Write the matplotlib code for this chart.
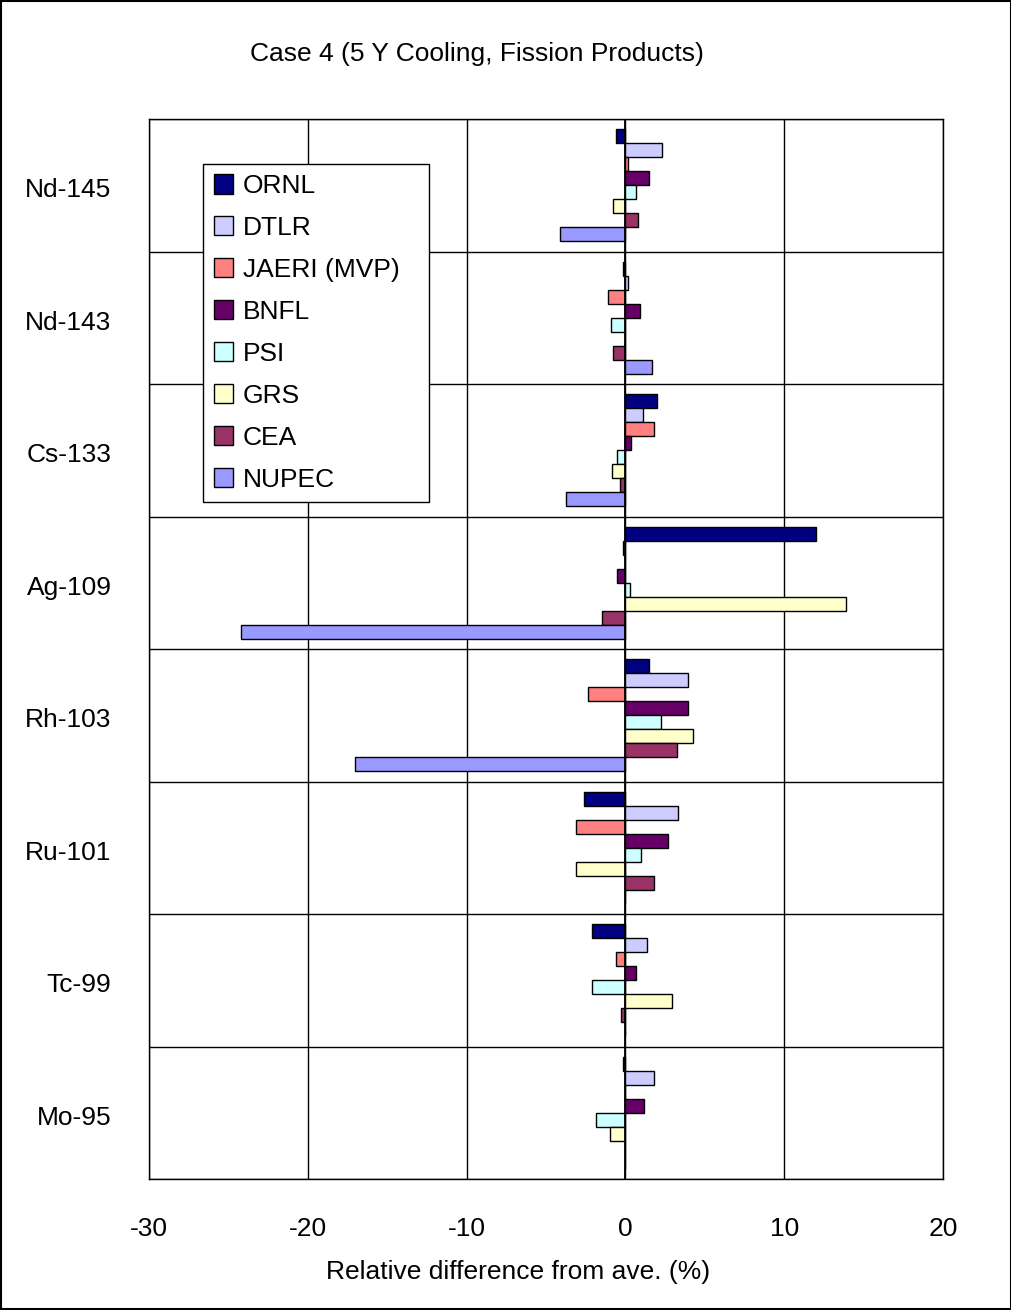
import numpy as np
import matplotlib
matplotlib.use("Agg")
import matplotlib.pyplot as plt
from matplotlib.patches import Rectangle
from matplotlib.transforms import ScaledTranslation

plt.rcParams['font.family'] = ['Liberation Sans Narrow', 'Liberation Sans', 'DejaVu Sans']

# ---- data ----
nuclides = ["Nd-145", "Nd-143", "Cs-133", "Ag-109", "Rh-103", "Ru-101", "Tc-99", "Mo-95"]
labs = ["ORNL", "DTLR", "JAERI (MVP)", "BNFL", "PSI", "GRS", "CEA", "NUPEC"]
colors = ["#000080", "#CCCCFF", "#FF8080", "#660066", "#CCFFFF", "#FFFFCC", "#993366", "#9999FF"]

ornl = [-0.61, -0.15, 2.02, 12.0, 1.51, -2.63, -2.13, -0.15]
dtlr = [2.29, 0.15, 1.13, -0.13, 3.93, 3.30, 1.39, 1.79]
jaeri = [0.15, -1.11, 1.78, 0.0, -2.38, -3.13, -0.61, 0.0]
bnfl = [1.51, 0.90, 0.38, -0.50, 3.93, 2.67, 0.65, 1.18]
psi = [0.65, -0.88, -0.50, 0.27, 2.27, 1.01, -2.10, -1.87]
grs = [-0.76, 0.0, -0.86, 13.9, 4.27, -3.11, 2.92, -0.99]
cea = [0.78, -0.76, -0.36, -1.47, 3.28, 1.79, -0.25, 0.0]
nupec = [-4.11, 1.66, -3.76, -24.2, -17.0, 0.0, 0.0, 0.0]

series = [ornl, dtlr, jaeri, bnfl, psi, grs, cea, nupec]
FS = 19

fig = plt.figure(figsize=(10.12, 13.10), dpi=100)
ax = fig.add_axes([149 / 1012, 131 / 1310, 794 / 1012, 1060 / 1310])

y = np.arange(len(nuclides))
h = 0.1057
for j, (vals, lab, c) in enumerate(zip(series, labs, colors)):
    ax.barh(y + (j - 3.5) * h, vals, height=h, color=c, edgecolor="black",
            linewidth=1.0, label=lab, zorder=3)

ax.set_xlim(-30, 20)
ax.set_ylim(len(nuclides) - 0.5, -0.5)
ax.set_xticks(np.arange(-30, 21, 10))
ax.set_xticklabels([str(v) for v in range(-30, 21, 10)], fontsize=FS)
ax.set_yticks(y)
ax.set_yticklabels(nuclides, fontsize=FS, va="center")
ax.tick_params(axis="both", length=0)
ax.tick_params(axis="x", pad=27)
ax.tick_params(axis="y", pad=27)
# category labels sit a little below the band centre in the original
shift = ScaledTranslation(0, -5 / 100, fig.dpi_scale_trans)
for t in ax.get_yticklabels():
    t.set_transform(t.get_transform() + shift)

# grid: vertical at every 10, horizontal at category boundaries
ax.set_yticks(np.arange(len(nuclides) + 1) - 0.5, minor=True)
ax.tick_params(axis="y", which="minor", length=0)
ax.grid(axis="x", which="major", color="black", linewidth=1.0, zorder=1)
ax.grid(axis="y", which="minor", color="black", linewidth=1.0, zorder=1)
ax.axvline(0, color="black", linewidth=1.3, zorder=4)
for s in ax.spines.values():
    s.set_color("black")
    s.set_linewidth(1.0)

leg = ax.legend(loc="upper left", bbox_to_anchor=(0.068, 0.640, 0.285, 0.318),
                mode="expand", fontsize=FS,
                frameon=True, fancybox=False, edgecolor="black", framealpha=1,
                handlelength=0.75, handleheight=0.75, handletextpad=0.35,
                labelspacing=0.68, borderpad=0.4, borderaxespad=0)
leg.get_frame().set_linewidth(1.0)

fig.text(477 / 1012, 1 - 54 / 1310, "Case 4 (5 Y Cooling, Fission Products)",
         ha="center", va="center", fontsize=FS)
fig.text(518 / 1012, 1 - 1272 / 1310, "Relative difference from ave. (%)",
         ha="center", va="center", fontsize=FS)

# outer border of the chart area
fig.patches.append(Rectangle((0.001, 0.001), 0.998, 0.998, transform=fig.transFigure,
                             fill=False, edgecolor="black", linewidth=1.5))

fig.savefig("out.png", dpi=100)
